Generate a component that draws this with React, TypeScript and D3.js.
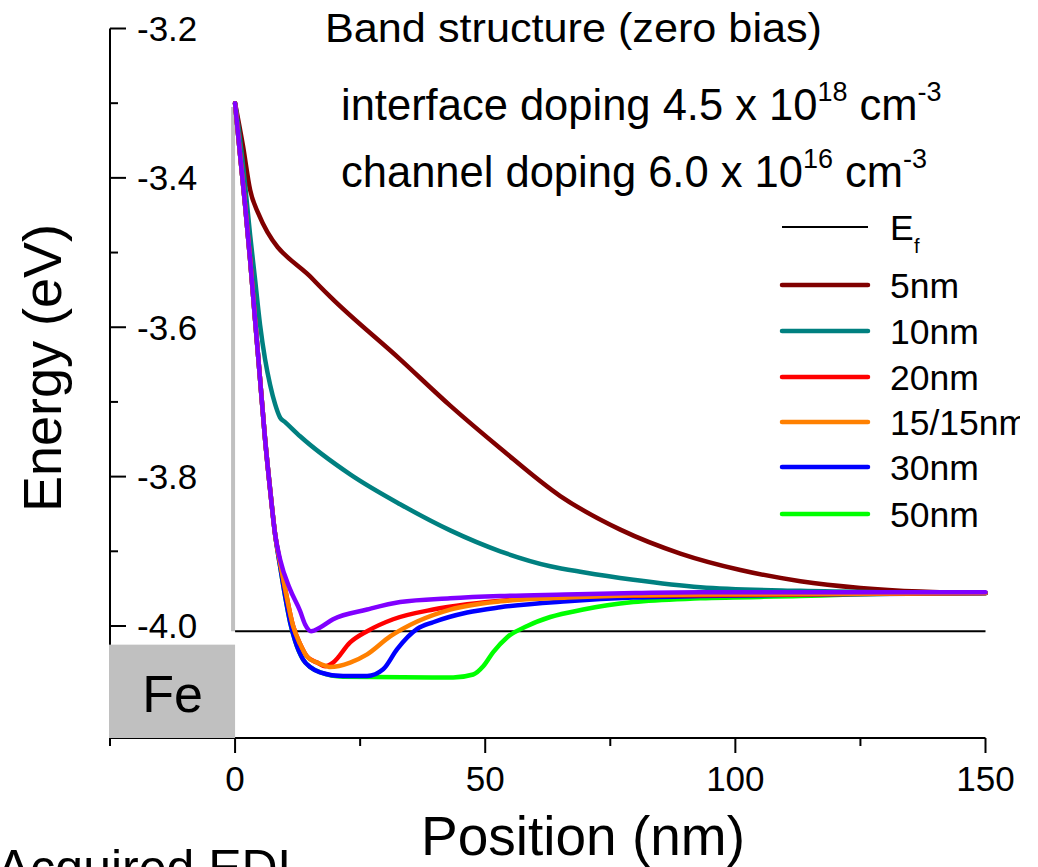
import React from "react";
import * as d3 from "d3";

// ---- data (position in nm, energy in eV) ----
const xMajorTicks = [0, 50, 100, 150];
const xMinorTicks = [-25, 25, 75, 125];
const yMajorTicks = [-3.2, -3.4, -3.6, -3.8, -4.0];
const yMinorTicks = [-3.3, -3.5, -3.7, -3.9, -4.1];

const fermiLevel = -4.007;
const barrierTop = -3.305;
const feTop = -4.025;

const curve5nm: [number, number][] = [
  [0, -3.3], [1.6, -3.358], [3, -3.416], [4.6, -3.447], [15.6, -3.536], [19, -3.559],
  [33, -3.643], [43, -3.705], [53, -3.762], [65, -3.826], [77, -3.871], [89, -3.903],
  [101, -3.925], [113, -3.94], [125, -3.949], [137, -3.954], [150, -3.956],
];
const curve10nm: [number, number][] = [
  [0, -3.3], [1, -3.349], [2, -3.409], [3, -3.476], [4, -3.536], [5, -3.597], [6, -3.643],
  [7, -3.677], [8, -3.703], [9, -3.721], [10, -3.727], [13, -3.746], [23, -3.797],
  [33, -3.837], [43, -3.872], [53, -3.9], [63, -3.92], [69.6, -3.928], [79.6, -3.938],
  [93, -3.948], [113, -3.953], [133, -3.955], [150, -3.956],
];
const curve20nm: [number, number][] = [
  [0, -3.3], [1, -3.369], [2, -3.436], [3, -3.509], [4, -3.59], [5, -3.67], [6, -3.75],
  [7, -3.817], [8, -3.877], [9, -3.915], [10, -3.95], [11.6, -4.0], [13, -4.024],
  [14.4, -4.041], [16.4, -4.049], [18, -4.054], [19.6, -4.049], [23, -4.022], [26.4, -4.007],
  [31.6, -3.991], [39.6, -3.978], [46.4, -3.971], [59.6, -3.963], [73, -3.96], [150, -3.956],
];
const curve15_15nm: [number, number][] = [
  [0, -3.3], [1, -3.369], [2, -3.436], [3, -3.509], [4, -3.59], [5, -3.67], [6, -3.75],
  [7, -3.817], [8, -3.877], [9, -3.915], [10, -3.95], [11.6, -4.0], [13, -4.024],
  [14.4, -4.041], [16.4, -4.049], [18.4, -4.054], [19, -4.055], [23, -4.049], [26.4, -4.038],
  [31, -4.014], [36.4, -3.994], [43, -3.978], [53, -3.967], [66.4, -3.962], [79.6, -3.959],
  [93, -3.958], [150, -3.956],
];
const curve30nm: [number, number][] = [
  [0, -3.3], [1, -3.369], [2, -3.436], [3, -3.509], [4, -3.59], [5, -3.67], [6, -3.75],
  [7, -3.817], [8, -3.877], [9, -3.92], [10, -3.96], [11, -3.995], [12, -4.02],
  [13.6, -4.045], [15, -4.055], [17, -4.062], [21.6, -4.067], [26.4, -4.067], [29.6, -4.058],
  [32.4, -4.031], [36.4, -4.004], [39.6, -3.995], [46.4, -3.982], [53, -3.975], [66.4, -3.967],
  [79.6, -3.962], [93, -3.96], [113, -3.958], [150, -3.956],
];
const curve50nm: [number, number][] = [
  [0, -3.3], [1, -3.369], [2, -3.436], [3, -3.509], [4, -3.59], [5, -3.67], [6, -3.75],
  [7, -3.817], [8, -3.877], [9, -3.92], [10, -3.96], [11, -3.995], [12, -4.02],
  [13.6, -4.045], [15, -4.055], [17, -4.062], [21.6, -4.068], [43.6, -4.069], [47.6, -4.065],
  [49.6, -4.054], [51.6, -4.035], [54.4, -4.015], [58.4, -4.0], [63, -3.988], [69.6, -3.978],
  [79.6, -3.968], [93, -3.963], [113, -3.96], [123, -3.958], [150, -3.956],
];
const curvePurple: [number, number][] = [
  [0, -3.3], [1, -3.369], [2, -3.436], [3, -3.509], [4, -3.59], [5, -3.67], [6, -3.75],
  [7, -3.817], [8, -3.877], [9, -3.911], [11, -3.951], [13, -3.98], [14, -3.998],
  [15.2, -4.007], [17, -4.002], [19.6, -3.991], [26.4, -3.978], [33, -3.968], [43, -3.963],
  [53, -3.96], [66, -3.958], [80, -3.956], [93, -3.955], [150, -3.955],
];

const seriesNames = ["5nm", "10nm", "20nm", "15/15nm", "30nm", "50nm"];
const seriesColors = ["#800000", "#008080", "#ff0000", "#ff8000", "#0000ff", "#00ff00"];

export default function App() {
  const W = 1038, H = 867;
  const x = d3.scaleLinear().domain([-25, 150]).range([110, 985.5]);
  const y = d3.scaleLinear().domain([-4.15, -3.2]).range([738, 28.5]);
  const line = d3.line<[number, number]>().x(d => x(d[0])).y(d => y(d[1])).curve(d3.curveMonotoneX);

  const drawOrder: { data: [number, number][]; color: string }[] = [
    { data: curve5nm, color: seriesColors[0] },
    { data: curve10nm, color: seriesColors[1] },
    { data: curve50nm, color: seriesColors[5] },
    { data: curve30nm, color: seriesColors[4] },
    { data: curve20nm, color: seriesColors[2] },
    { data: curve15_15nm, color: seriesColors[3] },
    { data: curvePurple, color: "#8000ff" },
  ];

  const font = "'Liberation Sans', Arial, sans-serif";
  const legendX0 = 782, legendX1 = 868, legendTextX = 890;
  const legendRows = [285, 331, 377, 422, 467, 514];

  return (
    <svg width={W} height={H} style={{ position: "absolute", left: 0, top: 0 }} fontFamily={font}>
      <defs>
        <clipPath id="rightcut">
          <rect x={0} y={0} width={1020} height={H} />
        </clipPath>
      </defs>
      <rect x={0} y={0} width={W} height={H} fill="#fff" />

      {/* axes */}
      <line x1={x(-25)} x2={x(-25)} y1={y(-3.2)} y2={y(-4.15)} stroke="#000" strokeWidth={2} />
      <line x1={x(-25)} x2={x(150)} y1={y(-4.15)} y2={y(-4.15)} stroke="#000" strokeWidth={2} />
      {yMajorTicks.map(t => (
        <g key={"ym" + t}>
          <line x1={x(-25)} x2={x(-25) + 16} y1={y(t)} y2={y(t)} stroke="#000" strokeWidth={2} />
          <text x={137} y={y(t) + 12.5} fontSize={35} fill="#000">{t.toFixed(1)}</text>
        </g>
      ))}
      {yMinorTicks.map(t => (
        <line key={"yn" + t} x1={x(-25)} x2={x(-25) + 8} y1={y(t)} y2={y(t)} stroke="#000" strokeWidth={2} />
      ))}
      {xMajorTicks.map(t => (
        <g key={"xm" + t}>
          <line x1={x(t)} x2={x(t)} y1={y(-4.15)} y2={y(-4.15) + 15} stroke="#000" strokeWidth={2} />
          <text x={x(t)} y={791} fontSize={35} textAnchor="middle" fill="#000">{t}</text>
        </g>
      ))}
      {xMinorTicks.map(t => (
        <line key={"xn" + t} x1={x(t)} x2={x(t)} y1={y(-4.15)} y2={y(-4.15) + 8} stroke="#000" strokeWidth={2} />
      ))}

      {/* Fe region */}
      <rect x={x(-25) - 1} y={y(feTop)} width={x(0) - x(-25) + 1} height={y(-4.15) - y(feTop)} fill="#c0c0c0" />
      <text x={(x(-25) + x(0)) / 2} y={712} fontSize={52} textAnchor="middle" fill="#000">Fe</text>

      {/* barrier edge + Fermi level */}
      <line x1={x(0) - 2} x2={x(0) - 2} y1={y(barrierTop)} y2={y(fermiLevel)} stroke="#c0c0c0" strokeWidth={4} />
      <line x1={x(0)} x2={x(150)} y1={y(fermiLevel)} y2={y(fermiLevel)} stroke="#000" strokeWidth={2} />

      {/* curves */}
      {drawOrder.map((s, i) => (
        <path key={i} d={line(s.data) || ""} fill="none" stroke={s.color} strokeWidth={4.5}
          strokeLinejoin="round" strokeLinecap="round" />
      ))}

      {/* titles */}
      <text x={325} y={42} fontSize={40} textLength={497} lengthAdjust="spacingAndGlyphs" fill="#000">Band structure (zero bias)</text>
      <text x={341} y={120} fontSize={43.5} fill="#000">
        interface doping 4.5 x 10<tspan fontSize={27} dy={-19}>18</tspan>
        <tspan fontSize={43.5} dy={19}> cm</tspan><tspan fontSize={27} dy={-19}>-3</tspan>
      </text>
      <text x={341} y={187} fontSize={43.5} fill="#000">
        channel doping 6.0 x 10<tspan fontSize={27} dy={-19}>16</tspan>
        <tspan fontSize={43.5} dy={19}> cm</tspan><tspan fontSize={27} dy={-19}>-3</tspan>
      </text>

      {/* legend */}
      <g clipPath="url(#rightcut)">
        <line x1={legendX0} x2={legendX1} y1={227} y2={227} stroke="#000" strokeWidth={2} />
        <text x={legendTextX} y={240} fontSize={35.5} fill="#000">E</text>
        <text x={legendTextX + 24} y={253} fontSize={20} fill="#000">f</text>
        {seriesNames.map((n, i) => (
          <g key={n}>
            <line x1={legendX0} x2={legendX1} y1={legendRows[i]} y2={legendRows[i]} stroke={seriesColors[i]}
              strokeWidth={4.5} strokeLinecap="round" />
            <text x={legendTextX} y={legendRows[i] + 12.5} fontSize={35.5} fill="#000">{n}</text>
          </g>
        ))}
      </g>

      {/* axis titles */}
      <text transform={`translate(61, ${368}) rotate(-90)`} fontSize={54} textAnchor="middle" fill="#000">Energy (eV)</text>
      <text x={583} y={855} fontSize={55} textAnchor="middle" fill="#000">Position (nm)</text>
      <text x={-3} y={885} fontSize={50} fill="#000">Acquired EDL</text>
    </svg>
  );
}
